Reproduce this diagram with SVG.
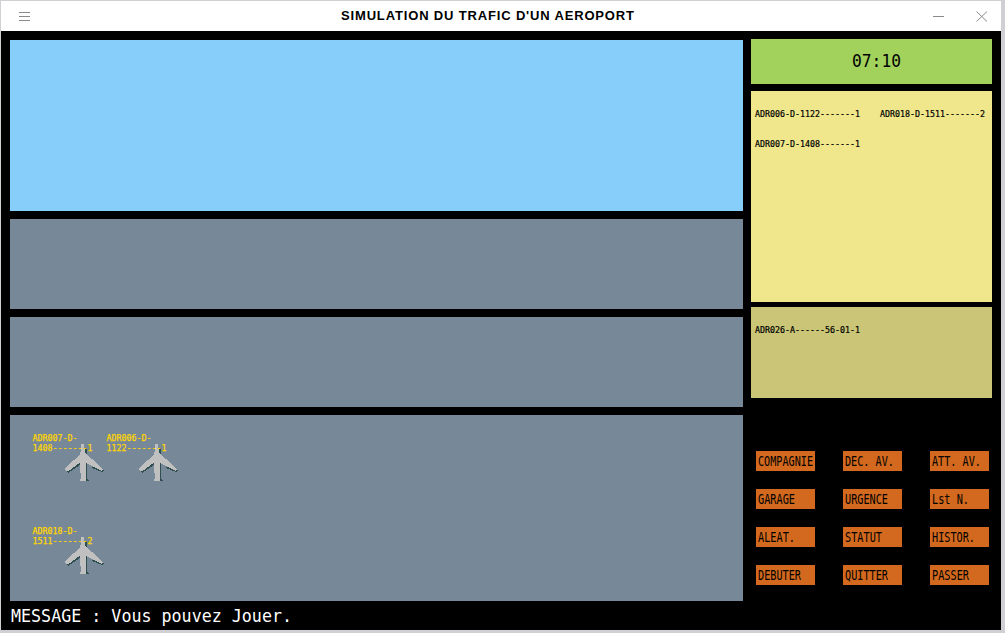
<svg xmlns="http://www.w3.org/2000/svg" width="1005" height="633" viewBox="0 0 1005 633">
<style>
.m{font-family:"DejaVu Sans Mono","Liberation Mono",monospace}
.s{font-size:8.3px;fill:#000;stroke:#000;stroke-width:.2px}
.y{font-size:8.3px;fill:#ffd700;stroke:#ffd700;stroke-width:.25px}
.b{font-size:13.7px;fill:#000}
.btn{fill:#d2691e}
.ic{stroke:#8a8a8a;stroke-width:1;fill:none}
.pl{shape-rendering:crispEdges}
</style>
<defs>
<g id="plane" class="pl">
<path fill="#2f4f4f" d="M1.500 4H4V12H3ZM2 19H4.500L4 34L6 37H3ZM-3 21L-15 29L-17 27L-3 18ZM10 22L21 26.500L19 28L9 24Z"/>
<path fill="#c0c0c0" d="M-1.500 0H1L2 8L3.500 10L20 25L19 27L3.500 19L2.500 34L3 37H-3L-2 34L-3.500 19L-15 27.500L-19 25L-3.500 11L-2.500 8Z"/>
</g>
</defs>
<rect width="1005" height="633" fill="#d0d0d4"/>
<g id="window">
<rect x="1" y="1" width="1000" height="30" fill="#fff"/>
<rect x="1" y="31" width="1000" height="599" fill="#000"/>
<path class="ic" d="M19 12.500H30M19 16.500H30M19 20.500H30"/>
<path class="ic" d="M933 16.500H944M976.500 11.500L987 21.500M987 11.500L976.500 21.500"/>
<text x="487.500" y="20" text-anchor="middle" font-family="Liberation Sans,Arial,sans-serif" font-weight="700" font-size="13" fill="#000" textLength="293">SIMULATION DU TRAFIC D'UN AEROPORT</text>
</g>
<g id="panel-ciel"><rect x="10" y="40" width="733" height="171" fill="#87cefa"/></g>
<g id="panel-piste1"><rect x="10" y="219" width="733" height="90" fill="#778899"/></g>
<g id="panel-piste2"><rect x="10" y="317" width="733" height="90" fill="#778899"/></g>
<g id="panel-parking"><rect x="10" y="415" width="733" height="186" fill="#778899"/></g>
<g id="horloge">
<rect x="751" y="39" width="241" height="45" fill="#a2d15c"/>
<text class="m" x="852" y="67" font-size="17.800" fill="#000" textLength="49" lengthAdjust="spacingAndGlyphs">07:10</text>
</g>
<g id="liste-depart">
<rect x="751" y="91" width="241" height="211" fill="#f0e68c"/>
<text class="m s" x="755" y="117">ADR006-D-1122-------1</text>
<text class="m s" x="880" y="117">ADR018-D-1511-------2</text>
<text class="m s" x="755" y="147">ADR007-D-1408-------1</text>
</g>
<g id="liste-arrivee">
<rect x="751" y="307" width="241" height="91" fill="#cbc677"/>
<text class="m s" x="755" y="333">ADR026-A------56-01-1</text>
</g>
<g id="avion-1">
<use href="#plane" x="83" y="444"/>
<text class="m y" x="32.500" y="441">ADR007-D-</text>
<text class="m y" x="32.500" y="451">1408-------1</text>
</g>
<g id="avion-2">
<use href="#plane" x="157" y="444"/>
<text class="m y" x="106.500" y="441">ADR006-D-</text>
<text class="m y" x="106.500" y="451">1122-------1</text>
</g>
<g id="avion-3">
<use href="#plane" x="83" y="537"/>
<text class="m y" x="32.500" y="534">ADR018-D-</text>
<text class="m y" x="32.500" y="544">1511-------2</text>
</g>
<g id="btn-compagnie"><rect class="btn" x="756" y="451" width="59" height="20"/><text class="m b" x="758" y="466" textLength="55" lengthAdjust="spacingAndGlyphs">COMPAGNIE</text></g>
<g id="btn-dec"><rect class="btn" x="843" y="451" width="59" height="20"/><text class="m b" x="845" y="466" textLength="49" lengthAdjust="spacingAndGlyphs">DEC. AV.</text></g>
<g id="btn-att"><rect class="btn" x="930" y="451" width="59" height="20"/><text class="m b" x="932" y="466" textLength="49" lengthAdjust="spacingAndGlyphs">ATT. AV.</text></g>
<g id="btn-garage"><rect class="btn" x="756" y="489" width="59" height="20"/><text class="m b" x="758" y="504" textLength="37" lengthAdjust="spacingAndGlyphs">GARAGE</text></g>
<g id="btn-urgence"><rect class="btn" x="843" y="489" width="59" height="20"/><text class="m b" x="845" y="504" textLength="43" lengthAdjust="spacingAndGlyphs">URGENCE</text></g>
<g id="btn-lst"><rect class="btn" x="930" y="489" width="59" height="20"/><text class="m b" x="932" y="504" textLength="37" lengthAdjust="spacingAndGlyphs">Lst N.</text></g>
<g id="btn-aleat"><rect class="btn" x="756" y="527" width="59" height="20"/><text class="m b" x="758" y="542" textLength="37" lengthAdjust="spacingAndGlyphs">ALEAT.</text></g>
<g id="btn-statut"><rect class="btn" x="843" y="527" width="59" height="20"/><text class="m b" x="845" y="542" textLength="37" lengthAdjust="spacingAndGlyphs">STATUT</text></g>
<g id="btn-histor"><rect class="btn" x="930" y="527" width="59" height="20"/><text class="m b" x="932" y="542" textLength="43" lengthAdjust="spacingAndGlyphs">HISTOR.</text></g>
<g id="btn-debuter"><rect class="btn" x="756" y="565" width="59" height="20"/><text class="m b" x="758" y="580" textLength="43" lengthAdjust="spacingAndGlyphs">DEBUTER</text></g>
<g id="btn-quitter"><rect class="btn" x="843" y="565" width="59" height="20"/><text class="m b" x="845" y="580" textLength="43" lengthAdjust="spacingAndGlyphs">QUITTER</text></g>
<g id="btn-passer"><rect class="btn" x="930" y="565" width="59" height="20"/><text class="m b" x="932" y="580" textLength="37" lengthAdjust="spacingAndGlyphs">PASSER</text></g>
<g id="message"><text class="m" x="11" y="622" font-size="17.800" fill="#fff" textLength="281" lengthAdjust="spacingAndGlyphs">MESSAGE : Vous pouvez Jouer.</text></g>
</svg>
